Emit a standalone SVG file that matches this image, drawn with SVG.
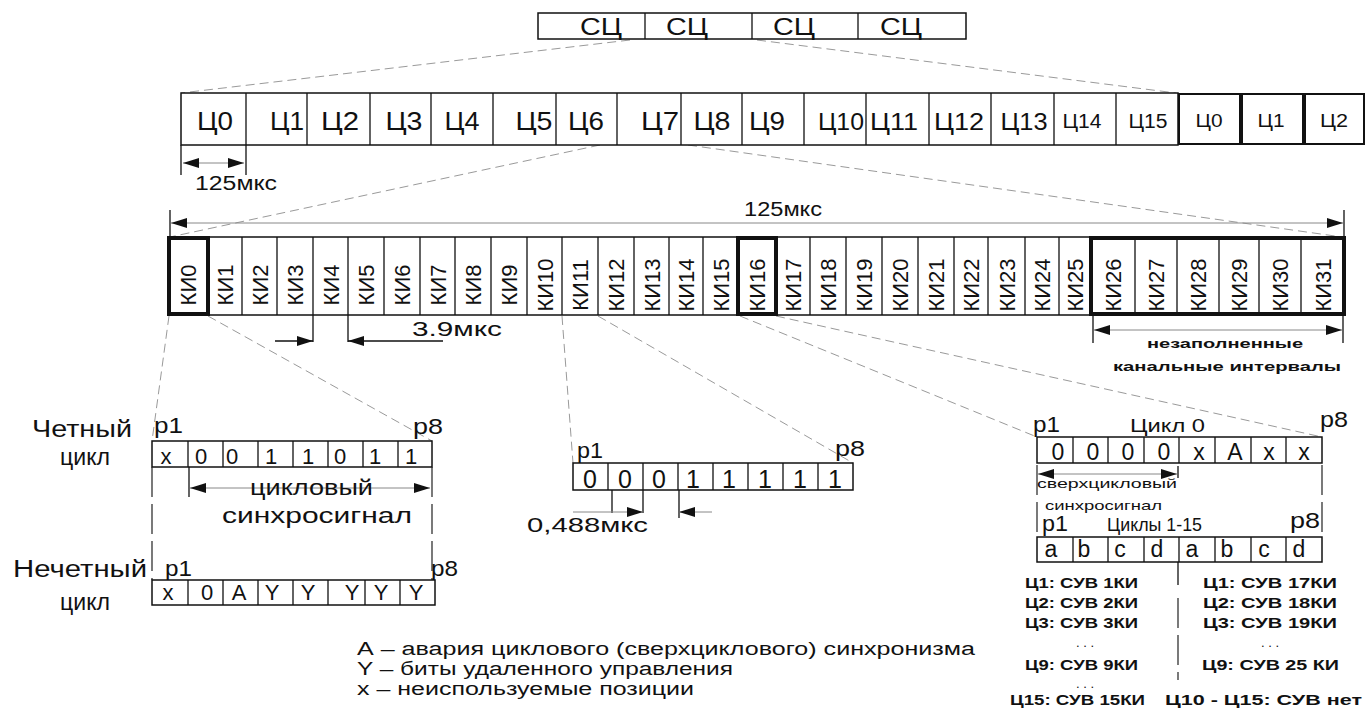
<svg xmlns="http://www.w3.org/2000/svg" width="1366" height="710" viewBox="0 0 1366 710">
<style>
text{font-family:"Liberation Sans",Arial,sans-serif;fill:#111}
.frm{fill:#fff;stroke:#111;stroke-width:1.5}
.ln{fill:none;stroke:#111;stroke-width:1.3}
.thick{fill:none;stroke:#111;stroke-width:4}
.dash{fill:none;stroke:#9a9a9a;stroke-width:1;stroke-dasharray:9 5}
.ldash{fill:none;stroke:#222;stroke-width:1.2;stroke-dasharray:30 7}
.dim{fill:none;stroke:#888;stroke-width:1}
.b{font-weight:bold}
.mid{text-anchor:middle}
</style>
<defs>
<marker id="ar" viewBox="0 0 16 10" refX="16" refY="5" markerWidth="16" markerHeight="10" markerUnits="userSpaceOnUse" orient="auto-start-reverse"><path d="M0,0 L16,5 L0,10 z" fill="#111"/></marker>
</defs>
<rect width="1366" height="710" fill="#fff"/>

<g id="connectors">
<path class="dash" d="M630,40 L181,93"/>
<path class="dash" d="M757,40 L1176,93"/>
<path class="dash" d="M600,145 L170,237"/>
<path class="dash" d="M688,145 L1342,237"/>
<path class="dash" d="M169,316 L152,441"/>
<path class="dash" d="M208,316 L432,441"/>
<path class="dash" d="M562,316 L573,463"/>
<path class="dash" d="M598,316 L853,463"/>
<path class="dash" d="M740,316 L1037,437"/>
<path class="dash" d="M776,316 L1322,437"/>
</g>

<g id="superframe">
<rect class="frm" x="538" y="13" width="428" height="26"/>
<path class="ln" d="M645,13V39M752,13V39M858,13V39"/>
<g font-size="23" class="mid">
<text x="601" y="35" textLength="42" lengthAdjust="spacingAndGlyphs">СЦ</text>
<text x="687" y="35" textLength="42" lengthAdjust="spacingAndGlyphs">СЦ</text>
<text x="794" y="35" textLength="42" lengthAdjust="spacingAndGlyphs">СЦ</text>
<text x="901" y="35" textLength="42" lengthAdjust="spacingAndGlyphs">СЦ</text>
</g>
</g>

<g id="cycles">
<rect class="frm" x="181" y="93" width="997" height="52"/>
<path class="ln" d="M246,93V145M307,93V145M370,93V145M431,93V145M493,93V145M556,93V145M617,93V145M681,93V145M742,93V145M804,93V145M866,93V145M929,93V145M991,93V145M1054,93V145M1116,93V145"/>
<g font-size="26" class="mid">
<text x="215" y="130" textLength="36" lengthAdjust="spacingAndGlyphs">Ц0</text>
<text x="287" y="130" textLength="34" lengthAdjust="spacingAndGlyphs">Ц1</text>
<text x="340" y="130" textLength="38" lengthAdjust="spacingAndGlyphs">Ц2</text>
<text x="404" y="130" textLength="37" lengthAdjust="spacingAndGlyphs">Ц3</text>
<text x="462" y="130" textLength="35" lengthAdjust="spacingAndGlyphs">Ц4</text>
<text x="534" y="130" textLength="37" lengthAdjust="spacingAndGlyphs">Ц5</text>
<text x="586" y="130" textLength="36" lengthAdjust="spacingAndGlyphs">Ц6</text>
<text x="660" y="130" textLength="38" lengthAdjust="spacingAndGlyphs">Ц7</text>
<text x="712" y="130" textLength="37" lengthAdjust="spacingAndGlyphs">Ц8</text>
<text x="767" y="130" textLength="36" lengthAdjust="spacingAndGlyphs">Ц9</text>
</g>
<g font-size="23" class="mid">
<text x="841" y="130" textLength="46" lengthAdjust="spacingAndGlyphs">Ц10</text>
<text x="894" y="130" textLength="48" lengthAdjust="spacingAndGlyphs">Ц11</text>
<text x="959" y="130" textLength="50" lengthAdjust="spacingAndGlyphs">Ц12</text>
<text x="1024" y="130" textLength="47" lengthAdjust="spacingAndGlyphs">Ц13</text>
</g>
<g font-size="20" class="mid">
<text x="1082" y="128" textLength="39" lengthAdjust="spacingAndGlyphs">Ц14</text>
<text x="1148" y="128" textLength="39" lengthAdjust="spacingAndGlyphs">Ц15</text>
</g>
</g>
<g id="next-cycles">
<rect x="1179" y="94" width="61" height="50" fill="#fff" stroke="#111" stroke-width="2"/>
<rect x="1242" y="94" width="61" height="50" fill="#fff" stroke="#111" stroke-width="2"/>
<rect x="1305" y="94" width="59" height="50" fill="#fff" stroke="#111" stroke-width="2"/>
<g font-size="19" class="mid">
<text x="1209" y="127" textLength="27" lengthAdjust="spacingAndGlyphs">Ц0</text>
<text x="1271" y="127" textLength="27" lengthAdjust="spacingAndGlyphs">Ц1</text>
<text x="1334" y="127" textLength="28" lengthAdjust="spacingAndGlyphs">Ц2</text>
</g>
</g>

<g id="dim-cycle">
<path class="ln" d="M181,145V175M246,145V175"/>
<path class="dim" d="M183,163H244" marker-start="url(#ar)" marker-end="url(#ar)"/>
<text x="195" y="190" font-size="20" textLength="82" lengthAdjust="spacingAndGlyphs">125мкс</text>
</g>

<g id="dim-frame">
<path class="ln" d="M170,210V237M1344,210V237"/>
<path class="dim" d="M171,223H1343" marker-start="url(#ar)" marker-end="url(#ar)"/>
<text x="744" y="216" font-size="20" textLength="78" lengthAdjust="spacingAndGlyphs">125мкс</text>
</g>

<g id="timeslots">
<rect class="frm" x="168" y="237" width="1177" height="78"/>
<path class="ln" d="M242,237V315M277,237V315M313,237V315M348,237V315M384,237V315M420,237V315M455,237V315M491,237V315M527,237V315M562,237V315M598,237V315M634,237V315M669,237V315M703,237V315M810,237V315M846,237V315M882,237V315M918,237V315M954,237V315M988,237V315M1025,237V315M1059,237V315M1135,237V315M1177,237V315M1219,237V315M1259,237V315M1301,237V315"/>
<rect class="thick" x="169" y="238" width="39" height="76"/>
<rect class="thick" x="738" y="238" width="38" height="76"/>
<rect class="thick" x="1091" y="238" width="253" height="76"/>
<g font-size="22" class="mid">
<text transform="translate(196,285) rotate(-90)">КИ0</text>
<text transform="translate(233,285) rotate(-90)">КИ1</text>
<text transform="translate(267.5,285) rotate(-90)">КИ2</text>
<text transform="translate(303,285) rotate(-90)">КИ3</text>
<text transform="translate(338.5,285) rotate(-90)">КИ4</text>
<text transform="translate(374,285) rotate(-90)">КИ5</text>
<text transform="translate(410,285) rotate(-90)">КИ6</text>
<text transform="translate(445.5,285) rotate(-90)">КИ7</text>
<text transform="translate(481,285) rotate(-90)">КИ8</text>
<text transform="translate(517,285) rotate(-90)">КИ9</text>
<text transform="translate(552.5,285) rotate(-90)">КИ10</text>
<text transform="translate(588,285) rotate(-90)">КИ11</text>
<text transform="translate(624,285) rotate(-90)">КИ12</text>
<text transform="translate(659.5,285) rotate(-90)">КИ13</text>
<text transform="translate(694,285) rotate(-90)">КИ14</text>
<text transform="translate(728.5,285) rotate(-90)">КИ15</text>
<text transform="translate(765,285) rotate(-90)">КИ16</text>
<text transform="translate(801,285) rotate(-90)">КИ17</text>
<text transform="translate(836,285) rotate(-90)">КИ18</text>
<text transform="translate(872,285) rotate(-90)">КИ19</text>
<text transform="translate(908,285) rotate(-90)">КИ20</text>
<text transform="translate(944,285) rotate(-90)">КИ21</text>
<text transform="translate(979,285) rotate(-90)">КИ22</text>
<text transform="translate(1014.5,285) rotate(-90)">КИ23</text>
<text transform="translate(1050,285) rotate(-90)">КИ24</text>
<text transform="translate(1083,285) rotate(-90)">КИ25</text>
<text transform="translate(1121,285) rotate(-90)">КИ26</text>
<text transform="translate(1164,285) rotate(-90)">КИ27</text>
<text transform="translate(1206,285) rotate(-90)">КИ28</text>
<text transform="translate(1247,285) rotate(-90)">КИ29</text>
<text transform="translate(1288,285) rotate(-90)">КИ30</text>
<text transform="translate(1331,285) rotate(-90)">КИ31</text>
</g>
</g>

<g id="dim-slot">
<path class="ln" d="M313,315V342M348,315V342"/>
<path class="ln" d="M275,341H313" marker-end="url(#ar)"/>
<path class="ln" d="M443,341H348" marker-end="url(#ar)"/>
<text x="412" y="336" font-size="21" textLength="90" lengthAdjust="spacingAndGlyphs">3.9мкс</text>
</g>

<g id="unfilled">
<path class="ln" d="M1093,315V343M1343,315V343"/>
<path class="dim" d="M1094,330H1342" marker-start="url(#ar)" marker-end="url(#ar)"/>
<text x="1147" y="348" font-size="13" class="b" textLength="156" lengthAdjust="spacingAndGlyphs">незаполненные</text>
<text x="1113" y="371" font-size="13" class="b" textLength="228" lengthAdjust="spacingAndGlyphs">канальные интервалы</text>
</g>

<g id="even-cycle">
<text x="32" y="437" font-size="23" textLength="100" lengthAdjust="spacingAndGlyphs">Четный</text>
<text x="60" y="465" font-size="23" textLength="50" lengthAdjust="spacingAndGlyphs">цикл</text>
<text x="154" y="433" font-size="22" textLength="29" lengthAdjust="spacingAndGlyphs">p1</text>
<text x="413" y="434" font-size="22" textLength="30" lengthAdjust="spacingAndGlyphs">p8</text>
<rect class="frm" x="152" y="441" width="280" height="26"/>
<path class="ln" d="M188,441V467M223,441V467M258,441V467M293,441V467M328,441V467M363,441V467M398,441V467"/>
<g font-size="22" class="mid">
<text x="166" y="464">x</text>
<text x="201" y="464">0</text>
<text x="232" y="464">0</text>
<text x="271" y="464">1</text>
<text x="308" y="464">1</text>
<text x="340" y="464">0</text>
<text x="375" y="464">1</text>
<text x="411" y="464">1</text>
</g>
<path class="ln" d="M189,467V497"/>
<path class="dim" d="M190,488H430" marker-start="url(#ar)" marker-end="url(#ar)"/>
<text x="250" y="495" font-size="22" textLength="123" lengthAdjust="spacingAndGlyphs">цикловый</text>
<text x="222" y="523" font-size="22" textLength="190" lengthAdjust="spacingAndGlyphs">синхросигнал</text>
<path class="ldash" d="M152,467V580M432,467V580"/>
</g>

<g id="odd-cycle">
<text x="13" y="577" font-size="23" textLength="134" lengthAdjust="spacingAndGlyphs">Нечетный</text>
<text x="60" y="610" font-size="23" textLength="50" lengthAdjust="spacingAndGlyphs">цикл</text>
<text x="165" y="576" font-size="22" textLength="27" lengthAdjust="spacingAndGlyphs">p1</text>
<text x="431" y="576" font-size="22" textLength="27" lengthAdjust="spacingAndGlyphs">p8</text>
<rect class="frm" x="152" y="580" width="283" height="25"/>
<path class="ln" d="M188,580V605M223,580V605M258,580V605M293,580V605M328,580V605M365,580V605M400,580V605"/>
<g font-size="22" class="mid">
<text x="168" y="600">x</text>
<text x="207" y="600">0</text>
<text x="239" y="600">A</text>
<text x="272" y="600">Y</text>
<text x="308" y="600">Y</text>
<text x="352" y="600">Y</text>
<text x="381" y="600">Y</text>
<text x="416" y="600">Y</text>
</g>
</g>

<g id="ki16-sync">
<text x="577" y="458" font-size="22" textLength="26" lengthAdjust="spacingAndGlyphs">p1</text>
<text x="835" y="456" font-size="22" textLength="30" lengthAdjust="spacingAndGlyphs">p8</text>
<rect class="frm" x="573" y="463" width="280" height="27"/>
<path class="ln" d="M608,463V490M643,463V490M678,463V490M713,463V490M748,463V490M783,463V490M818,463V490"/>
<g font-size="25" class="mid">
<text x="590" y="488">0</text>
<text x="625" y="488">0</text>
<text x="659" y="488">0</text>
<text x="693" y="488">1</text>
<text x="729" y="488">1</text>
<text x="765" y="488">1</text>
<text x="800" y="488">1</text>
<text x="835" y="488">1</text>
</g>
<path class="ln" d="M612,490V513M643,490V513M679,490V518"/>
<path class="dim" d="M573,512H643" marker-end="url(#ar)"/>
<path class="dim" d="M712,512H679" marker-end="url(#ar)"/>
<text x="527" y="532" font-size="21" textLength="121" lengthAdjust="spacingAndGlyphs">0,488мкс</text>
</g>

<g id="cycle0">
<text x="1033" y="432" font-size="22" textLength="27" lengthAdjust="spacingAndGlyphs">p1</text>
<text x="1130" y="432" font-size="19" textLength="75" lengthAdjust="spacingAndGlyphs">Цикл 0</text>
<text x="1320" y="427" font-size="22" textLength="28" lengthAdjust="spacingAndGlyphs">p8</text>
<rect class="frm" x="1037" y="437" width="285" height="26"/>
<path class="ln" d="M1073,437V463M1108,437V463M1144,437V463M1179,437V463M1215,437V463M1251,437V463M1286,437V463"/>
<g font-size="23" class="mid">
<text x="1058" y="460">0</text>
<text x="1093" y="460">0</text>
<text x="1128" y="460">0</text>
<text x="1164" y="460">0</text>
<text x="1199" y="460">x</text>
<text x="1235" y="460">A</text>
<text x="1269" y="460">x</text>
<text x="1304" y="460">x</text>
</g>
<path class="ln" d="M1178,466V478"/>
<path class="dim" d="M1038,474H1177" marker-start="url(#ar)" marker-end="url(#ar)"/>
<text x="1037" y="488" font-size="13" textLength="140" lengthAdjust="spacingAndGlyphs">сверхцикловый</text>
<text x="1045" y="510" font-size="13" textLength="117" lengthAdjust="spacingAndGlyphs">синхросигнал</text>
<path class="ldash" d="M1037,465V537M1322,465V537"/>
</g>

<g id="cycles1-15">
<text x="1042" y="531" font-size="22" textLength="26" lengthAdjust="spacingAndGlyphs">p1</text>
<text x="1107" y="531" font-size="19" textLength="95" lengthAdjust="spacingAndGlyphs">Циклы 1-15</text>
<text x="1290" y="528" font-size="22" textLength="30" lengthAdjust="spacingAndGlyphs">p8</text>
<rect class="frm" x="1037" y="537" width="285" height="25"/>
<path class="ln" d="M1073,537V562M1108,537V562M1144,537V562M1179,537V562M1215,537V562M1251,537V562M1286,537V562"/>
<g font-size="23" class="mid">
<text x="1051" y="557">a</text>
<text x="1084" y="557">b</text>
<text x="1120" y="557">c</text>
<text x="1157" y="557">d</text>
<text x="1192" y="557">a</text>
<text x="1227" y="557">b</text>
<text x="1264" y="557">c</text>
<text x="1299" y="557">d</text>
</g>
</g>

<g id="signalling-table">
<path class="ln" d="M1178,562V585"/>
<path class="ldash" d="M1178,598V680"/>
<g font-size="14" class="b">
<text x="1025" y="588" textLength="113" lengthAdjust="spacingAndGlyphs">Ц1: СУВ 1КИ</text>
<text x="1025" y="608" textLength="113" lengthAdjust="spacingAndGlyphs">Ц2: СУВ 2КИ</text>
<text x="1025" y="628" textLength="113" lengthAdjust="spacingAndGlyphs">Ц3: СУВ 3КИ</text>
<text x="1025" y="670" textLength="113" lengthAdjust="spacingAndGlyphs">Ц9: СУВ 9КИ</text>
<text x="1010" y="705" textLength="135" lengthAdjust="spacingAndGlyphs">Ц15: СУВ 15КИ</text>
<text x="1203" y="588" textLength="134" lengthAdjust="spacingAndGlyphs">Ц1: СУВ 17КИ</text>
<text x="1203" y="608" textLength="134" lengthAdjust="spacingAndGlyphs">Ц2: СУВ 18КИ</text>
<text x="1203" y="628" textLength="134" lengthAdjust="spacingAndGlyphs">Ц3: СУВ 19КИ</text>
<text x="1202" y="670" textLength="137" lengthAdjust="spacingAndGlyphs">Ц9: СУВ 25 КИ</text>
<text x="1165" y="705" textLength="197" lengthAdjust="spacingAndGlyphs">Ц10 - Ц15: СУВ нет</text>
</g>
<g font-size="13" class="mid" fill="#555">
<text x="1085" y="647">. . .</text>
<text x="1085" y="688">. . .</text>
<text x="1270" y="647">. . .</text>
</g>
</g>

<g id="legend" font-size="18">
<text x="357" y="655" textLength="618" lengthAdjust="spacingAndGlyphs">А – авария циклового (сверхциклового) синхронизма</text>
<text x="357" y="675" textLength="376" lengthAdjust="spacingAndGlyphs">Y – биты удаленного управления</text>
<text x="357" y="695" textLength="337" lengthAdjust="spacingAndGlyphs">x – неиспользуемые позиции</text>
</g>
</svg>
